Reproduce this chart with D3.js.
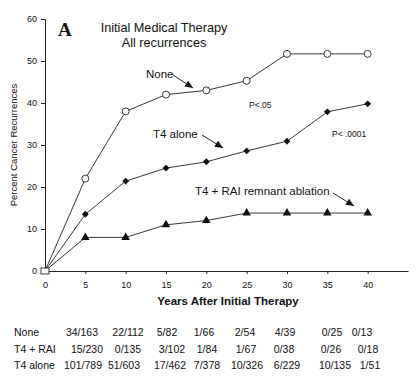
<!DOCTYPE html>
<html><head><meta charset="utf-8">
<script src="https://cdn.jsdelivr.net/npm/d3@7"></script>
<style>body{margin:0;background:#fff}svg{display:block}text{font-family:Arial,"Liberation Sans",sans-serif;fill:#111}</style>
</head><body>
<script>
const years = [0,5,10,15,20,25,30,35,40];
const noneVals = [0,22,38,42,43,45.3,51.7,51.7,51.7];
const t4Vals = [0,13.5,21.4,24.5,26,28.6,30.9,37.9,39.8];
const raiVals = [0,8,8,11,12,13.8,13.8,13.8,13.8];
const yTicks = [0,10,20,30,40,50,60];
const xTicks = [0,5,10,15,20,25,30,35,40];
const rowLabels = ["None","T4 + RAI","T4 alone"];
const noneCounts = ["34/163","22/112","5/82","1/66","2/54","4/39","0/25","0/13"];
const raiCounts = ["15/230","0/135","3/102","1/84","1/67","0/38","0/26","0/18"];
const t4Counts = ["101/789","51/603","17/462","7/378","10/326","6/229","10/135","1/51"];

const W=420,H=378;
const svg=d3.select("body").append("svg").attr("width",W).attr("height",H);
const x=d3.scaleLinear().domain([0,45]).range([45,408]);
const y=d3.scaleLinear().domain([0,60]).range([271,19]);

// axes
svg.append("g").attr("transform","translate(45,0)")
  .call(d3.axisLeft(y).tickValues(yTicks).tickSize(4).tickPadding(4))
  .call(g=>{g.select(".domain").attr("stroke","#222");g.selectAll("line").attr("stroke","#222");g.selectAll("text").attr("font-size",9).attr("font-family","Arial");});
svg.append("g").attr("transform","translate(0,271)")
  .call(d3.axisBottom(x).tickValues(xTicks).tickSize(3).tickSizeOuter(0).tickPadding(8))
  .call(g=>{g.select(".domain").attr("stroke","#222");g.selectAll("line").attr("stroke","#222");g.selectAll("text").attr("font-size",9).attr("font-family","Arial");});

const line=d3.line().x((d,i)=>x(years[i])).y(d=>y(d));
[noneVals,t4Vals,raiVals].forEach(v=>{
  svg.append("path").attr("d",line(v)).attr("fill","none").attr("stroke","#222").attr("stroke-width",0.9);
});
// markers
svg.append("g").selectAll("circle").data(noneVals.slice(1)).join("circle")
  .attr("cx",(d,i)=>x(years[i+1])).attr("cy",d=>y(d)).attr("r",3.5)
  .attr("fill","#fff").attr("stroke","#222").attr("stroke-width",0.9);
svg.append("g").selectAll("path").data(t4Vals.slice(1)).join("path")
  .attr("d",d3.symbol(d3.symbolDiamond2,30)())
  .attr("transform",(d,i)=>`translate(${x(years[i+1])},${y(d)})`).attr("fill","#111");
svg.append("g").selectAll("path").data(raiVals.slice(1)).join("path")
  .attr("d",d3.symbol(d3.symbolTriangle,32)())
  .attr("transform",(d,i)=>`translate(${x(years[i+1])},${y(d)})`).attr("fill","#111");
svg.append("rect").attr("x",x(0)-4).attr("y",y(0)-3).attr("width",8).attr("height",6)
  .attr("fill","#fff").attr("stroke","#222").attr("stroke-width",0.9);

// labels
svg.append("text").attr("x",58).attr("y",36).attr("font-weight","bold").attr("font-size",19).text("A").style("font-family","'Liberation Serif',serif");
svg.append("text").attr("x",164).attr("y",32).attr("text-anchor","middle").attr("font-size",12.7).text("Initial Medical Therapy");
svg.append("text").attr("x",164).attr("y",47).attr("text-anchor","middle").attr("font-size",12.7).text("All recurrences");
svg.append("text").attr("transform","translate(17,145) rotate(-90)").attr("text-anchor","middle").attr("font-size",9.5).text("Percent Cancer Recurrences");
svg.append("text").attr("x",228).attr("y",305).attr("text-anchor","middle").attr("font-size",11.5).attr("font-weight","bold").text("Years After Initial Therapy");

svg.append("text").attr("x",146).attr("y",78).attr("font-size",11.5).text("None");
svg.append("text").attr("x",153).attr("y",138).attr("font-size",11.5).text("T4 alone");
svg.append("text").attr("x",195).attr("y",195).attr("font-size",11.5).text("T4 + RAI remnant ablation");
svg.append("text").attr("x",249).attr("y",108).attr("font-size",8.5).text("P<.05");
svg.append("text").attr("x",332).attr("y",137).attr("font-size",8.5).text("P< .0001");

function arrow(x1,y1,x2,y2){
  svg.append("line").attr("x1",x1).attr("y1",y1).attr("x2",x2).attr("y2",y2).attr("stroke","#111").attr("stroke-width",0.9);
  const a=Math.atan2(y2-y1,x2-x1), L=8, w=3.5;
  const bx=x2-L*Math.cos(a), by=y2-L*Math.sin(a);
  const p=[[x2,y2],[bx+w*Math.sin(a),by-w*Math.cos(a)],[bx-w*Math.sin(a),by+w*Math.cos(a)]];
  svg.append("path").attr("d","M"+p.join("L")+"Z").attr("fill","#111");
}
arrow(173,75,193,88);
arrow(202,135,223,148);
arrow(333,193,354,206);

// table
const colCenters=[[82,128,167,204,245,285,332,362],[87,128,172,207,246,284,331,368],[83,124,170,207,247,287,335,370]];
const rows=[noneCounts,raiCounts,t4Counts];
const rowY=[336,353,369];
rows.forEach((r,ri)=>{
  svg.append("text").attr("x",14).attr("y",rowY[ri]).attr("font-size",10.5).text(rowLabels[ri]);
  r.forEach((c,ci)=>{
    svg.append("text").attr("x",colCenters[ri][ci]).attr("y",rowY[ri]).attr("text-anchor","middle").attr("font-size",10.5).text(c);
  });
});
</script>
</body></html>
